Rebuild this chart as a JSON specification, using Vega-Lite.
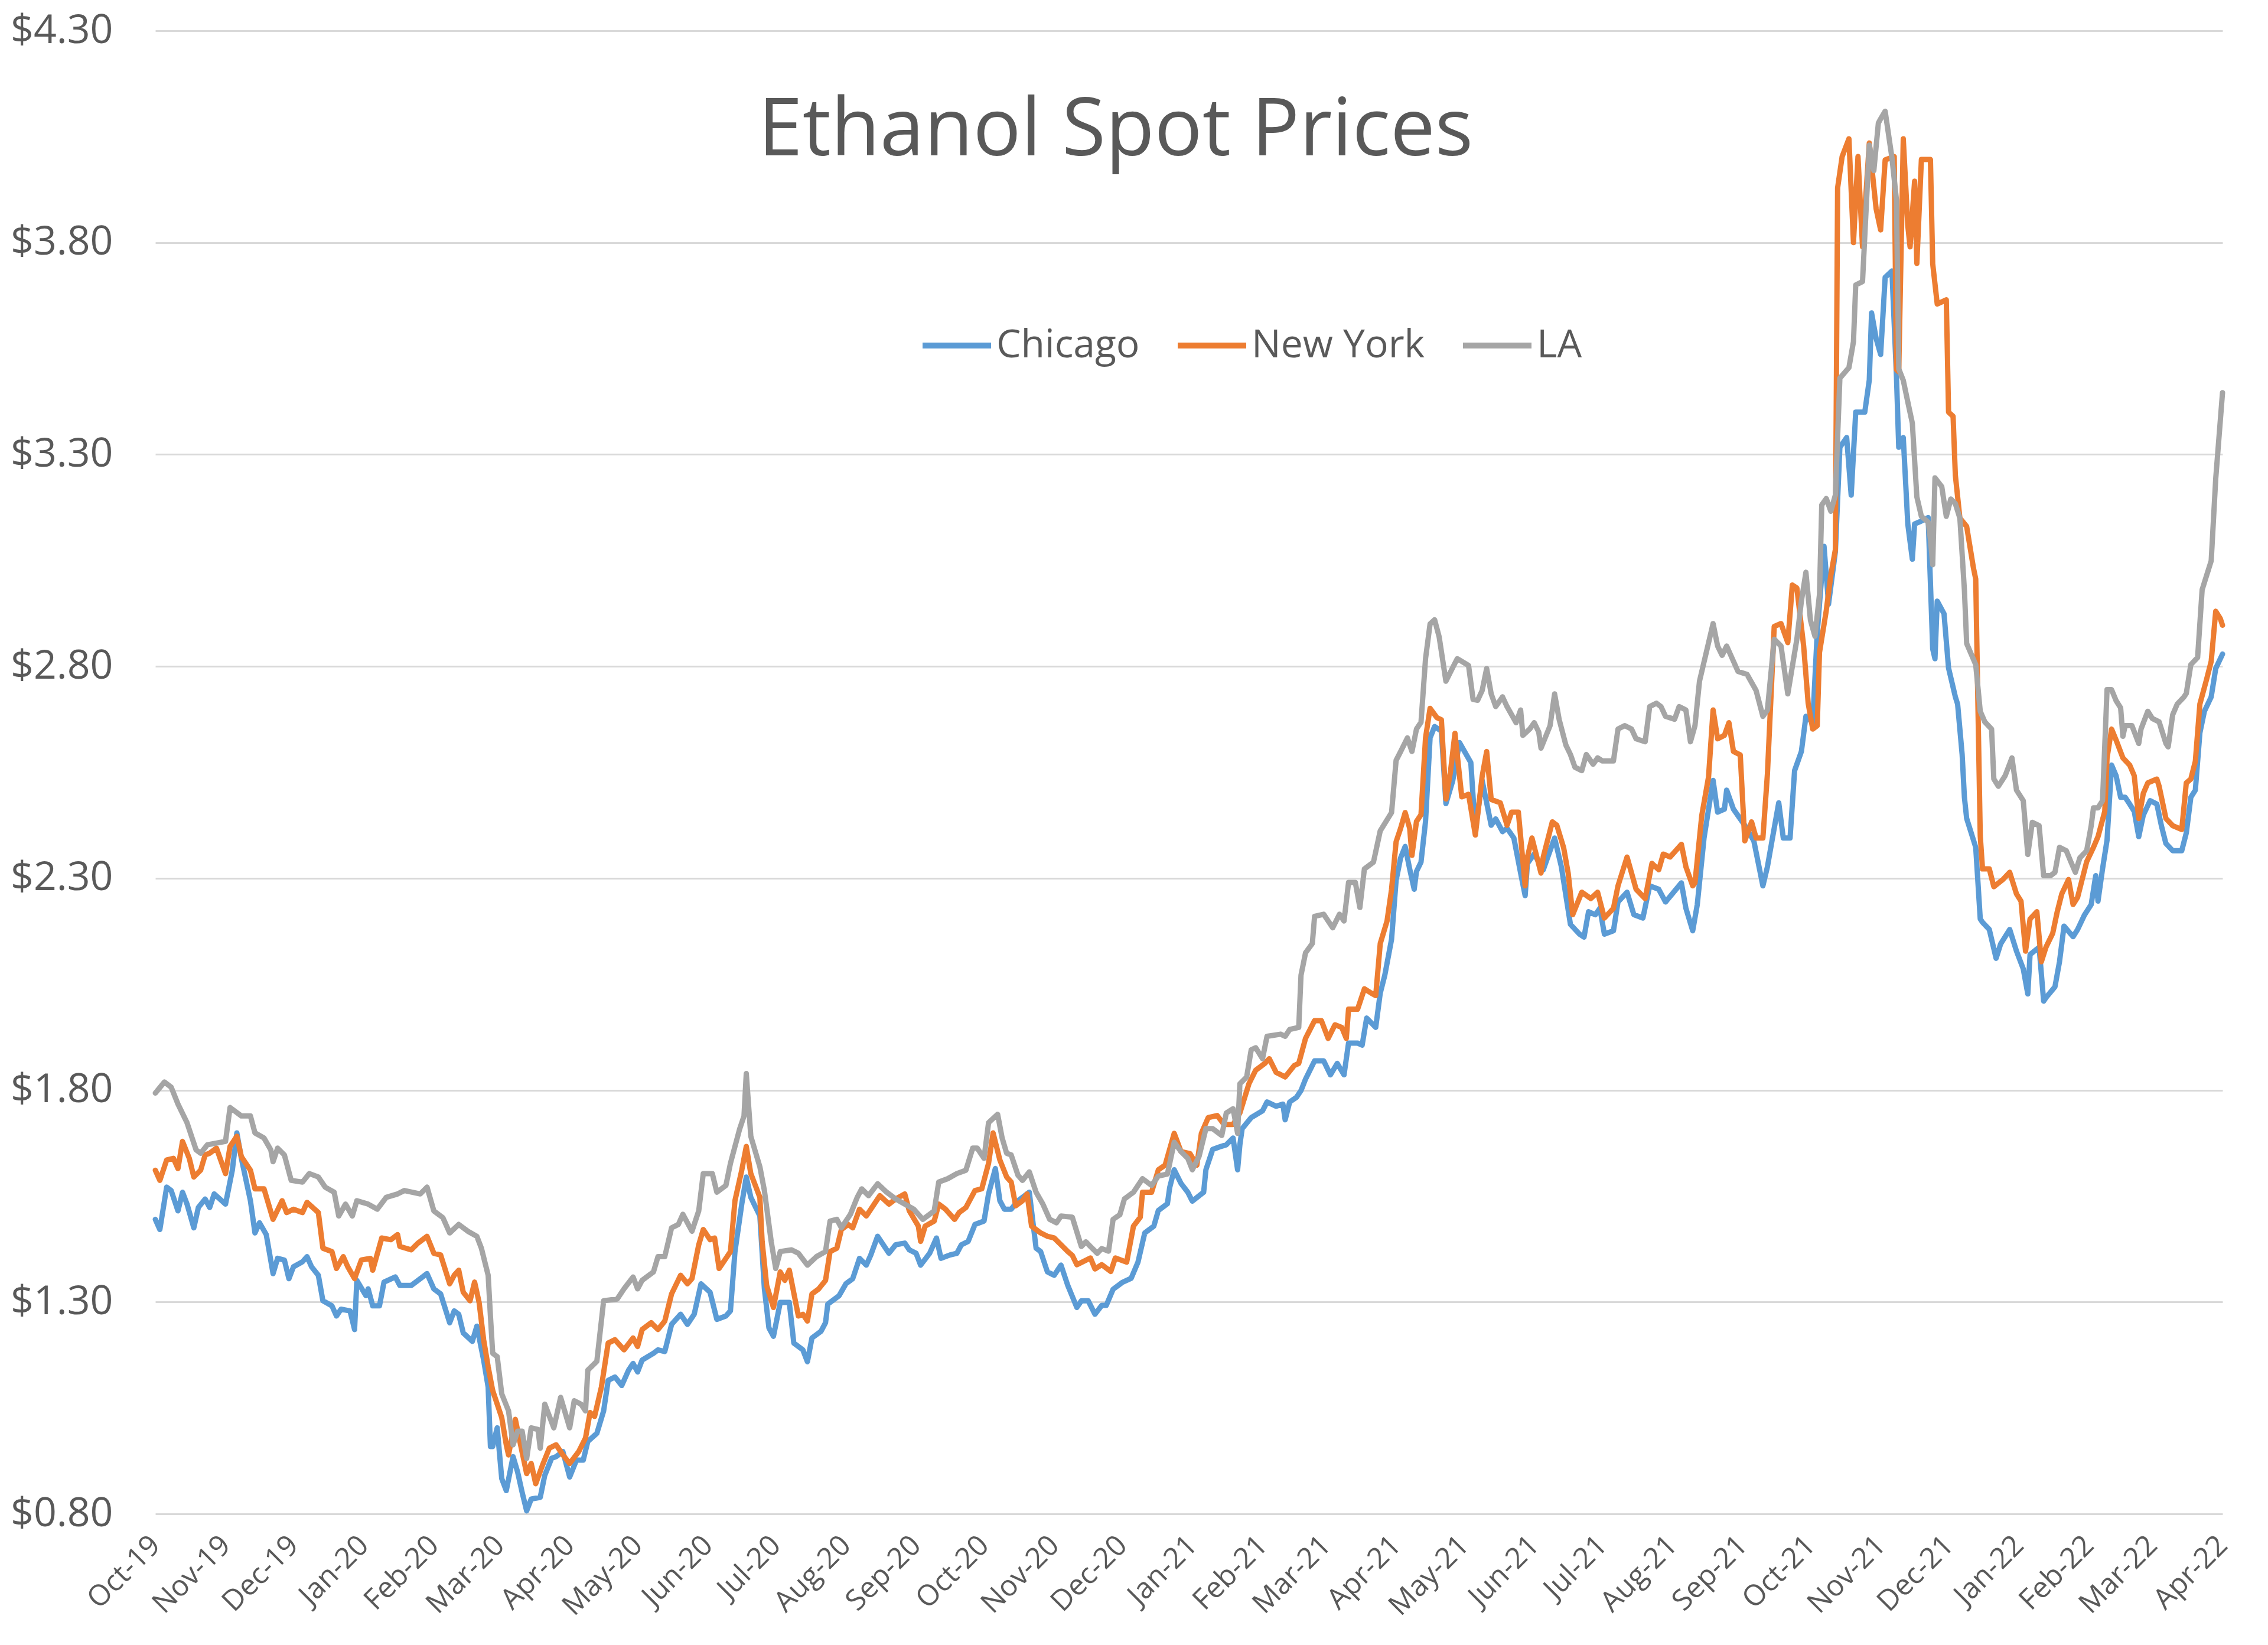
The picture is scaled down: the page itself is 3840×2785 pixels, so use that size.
{
"$schema":"https://vega.github.io/schema/vega-lite/v6.json",
"width":3500,"height":2511,
"autosize":{"type":"none"},
"padding":{"left":263,"top":52,"right":77,"bottom":222},
"background":"white",
"config":{"font":"Open Sans","view":{"stroke":null}},
"title":{"text":"Ethanol Spot Prices","font":"Open Sans","fontSize":135,"fontWeight":"normal","color":"#595959","anchor":"middle","frame":"group","baseline":"middle","offset":-339,"dx":-124},
"data":{"values":[
{"date":"2019-10-01","city":"Chicago","price":1.495},{"date":"2019-10-03","city":"Chicago","price":1.471},{"date":"2019-10-06","city":"Chicago","price":1.571},{"date":"2019-10-08","city":"Chicago","price":1.563},{"date":"2019-10-11","city":"Chicago","price":1.515},{"date":"2019-10-13","city":"Chicago","price":1.559},{"date":"2019-10-15","city":"Chicago","price":1.531},{"date":"2019-10-18","city":"Chicago","price":1.475},{"date":"2019-10-20","city":"Chicago","price":1.523},{"date":"2019-10-23","city":"Chicago","price":1.543},{"date":"2019-10-25","city":"Chicago","price":1.523},{"date":"2019-10-27","city":"Chicago","price":1.555},
{"date":"2019-11-01","city":"Chicago","price":1.531},{"date":"2019-11-04","city":"Chicago","price":1.611},{"date":"2019-11-06","city":"Chicago","price":1.699},{"date":"2019-11-08","city":"Chicago","price":1.639},{"date":"2019-11-12","city":"Chicago","price":1.539},{"date":"2019-11-14","city":"Chicago","price":1.463},{"date":"2019-11-16","city":"Chicago","price":1.487},{"date":"2019-11-19","city":"Chicago","price":1.459},{"date":"2019-11-22","city":"Chicago","price":1.367},{"date":"2019-11-24","city":"Chicago","price":1.403},{"date":"2019-11-27","city":"Chicago","price":1.399},{"date":"2019-11-29","city":"Chicago","price":1.355},
{"date":"2019-12-01","city":"Chicago","price":1.383},{"date":"2019-12-05","city":"Chicago","price":1.395},{"date":"2019-12-07","city":"Chicago","price":1.407},{"date":"2019-12-09","city":"Chicago","price":1.383},{"date":"2019-12-12","city":"Chicago","price":1.363},{"date":"2019-12-14","city":"Chicago","price":1.303},{"date":"2019-12-18","city":"Chicago","price":1.291},{"date":"2019-12-20","city":"Chicago","price":1.267},{"date":"2019-12-22","city":"Chicago","price":1.283},{"date":"2019-12-26","city":"Chicago","price":1.279},{"date":"2019-12-28","city":"Chicago","price":1.235},{"date":"2019-12-29","city":"Chicago","price":1.351},
{"date":"2020-01-02","city":"Chicago","price":1.315},{"date":"2020-01-03","city":"Chicago","price":1.331},{"date":"2020-01-05","city":"Chicago","price":1.291},{"date":"2020-01-08","city":"Chicago","price":1.291},{"date":"2020-01-10","city":"Chicago","price":1.347},{"date":"2020-01-15","city":"Chicago","price":1.359},{"date":"2020-01-17","city":"Chicago","price":1.339},{"date":"2020-01-22","city":"Chicago","price":1.339},{"date":"2020-01-26","city":"Chicago","price":1.355},{"date":"2020-01-29","city":"Chicago","price":1.367},
{"date":"2020-02-01","city":"Chicago","price":1.331},{"date":"2020-02-04","city":"Chicago","price":1.319},{"date":"2020-02-08","city":"Chicago","price":1.251},{"date":"2020-02-10","city":"Chicago","price":1.279},{"date":"2020-02-12","city":"Chicago","price":1.271},{"date":"2020-02-14","city":"Chicago","price":1.227},{"date":"2020-02-18","city":"Chicago","price":1.207},{"date":"2020-02-20","city":"Chicago","price":1.243},{"date":"2020-02-23","city":"Chicago","price":1.163},{"date":"2020-02-25","city":"Chicago","price":1.099},{"date":"2020-02-26","city":"Chicago","price":0.959},{"date":"2020-02-27","city":"Chicago","price":0.959},{"date":"2020-02-29","city":"Chicago","price":1.003},
{"date":"2020-03-02","city":"Chicago","price":0.883},{"date":"2020-03-04","city":"Chicago","price":0.855},{"date":"2020-03-07","city":"Chicago","price":0.935},{"date":"2020-03-09","city":"Chicago","price":0.899},{"date":"2020-03-11","city":"Chicago","price":0.851},{"date":"2020-03-13","city":"Chicago","price":0.807},{"date":"2020-03-15","city":"Chicago","price":0.835},{"date":"2020-03-19","city":"Chicago","price":0.839},{"date":"2020-03-21","city":"Chicago","price":0.891},{"date":"2020-03-24","city":"Chicago","price":0.931},{"date":"2020-03-26","city":"Chicago","price":0.935},{"date":"2020-03-29","city":"Chicago","price":0.947},
{"date":"2020-04-01","city":"Chicago","price":0.887},{"date":"2020-04-04","city":"Chicago","price":0.927},{"date":"2020-04-07","city":"Chicago","price":0.927},{"date":"2020-04-09","city":"Chicago","price":0.971},{"date":"2020-04-13","city":"Chicago","price":0.99},{"date":"2020-04-16","city":"Chicago","price":1.043},{"date":"2020-04-18","city":"Chicago","price":1.115},{"date":"2020-04-21","city":"Chicago","price":1.123},{"date":"2020-04-24","city":"Chicago","price":1.103},{"date":"2020-04-27","city":"Chicago","price":1.139},{"date":"2020-04-29","city":"Chicago","price":1.155},
{"date":"2020-05-01","city":"Chicago","price":1.135},{"date":"2020-05-03","city":"Chicago","price":1.163},{"date":"2020-05-08","city":"Chicago","price":1.179},{"date":"2020-05-10","city":"Chicago","price":1.187},{"date":"2020-05-13","city":"Chicago","price":1.183},{"date":"2020-05-16","city":"Chicago","price":1.247},{"date":"2020-05-20","city":"Chicago","price":1.271},{"date":"2020-05-23","city":"Chicago","price":1.247},{"date":"2020-05-26","city":"Chicago","price":1.271},{"date":"2020-05-29","city":"Chicago","price":1.343},
{"date":"2020-06-02","city":"Chicago","price":1.323},{"date":"2020-06-05","city":"Chicago","price":1.259},{"date":"2020-06-09","city":"Chicago","price":1.267},{"date":"2020-06-11","city":"Chicago","price":1.279},{"date":"2020-06-13","city":"Chicago","price":1.419},{"date":"2020-06-16","city":"Chicago","price":1.531},{"date":"2020-06-18","city":"Chicago","price":1.595},{"date":"2020-06-20","city":"Chicago","price":1.547},{"date":"2020-06-24","city":"Chicago","price":1.503},{"date":"2020-06-26","city":"Chicago","price":1.331},{"date":"2020-06-28","city":"Chicago","price":1.239},{"date":"2020-06-30","city":"Chicago","price":1.219},
{"date":"2020-07-03","city":"Chicago","price":1.299},{"date":"2020-07-07","city":"Chicago","price":1.299},{"date":"2020-07-09","city":"Chicago","price":1.203},{"date":"2020-07-13","city":"Chicago","price":1.187},{"date":"2020-07-15","city":"Chicago","price":1.159},{"date":"2020-07-17","city":"Chicago","price":1.215},{"date":"2020-07-21","city":"Chicago","price":1.231},{"date":"2020-07-23","city":"Chicago","price":1.251},{"date":"2020-07-24","city":"Chicago","price":1.295},{"date":"2020-07-29","city":"Chicago","price":1.315},
{"date":"2020-08-01","city":"Chicago","price":1.343},{"date":"2020-08-04","city":"Chicago","price":1.355},{"date":"2020-08-07","city":"Chicago","price":1.403},{"date":"2020-08-10","city":"Chicago","price":1.387},{"date":"2020-08-12","city":"Chicago","price":1.411},{"date":"2020-08-15","city":"Chicago","price":1.455},{"date":"2020-08-20","city":"Chicago","price":1.415},{"date":"2020-08-23","city":"Chicago","price":1.435},{"date":"2020-08-27","city":"Chicago","price":1.439},{"date":"2020-08-29","city":"Chicago","price":1.423},
{"date":"2020-09-01","city":"Chicago","price":1.415},{"date":"2020-09-03","city":"Chicago","price":1.387},{"date":"2020-09-07","city":"Chicago","price":1.415},{"date":"2020-09-10","city":"Chicago","price":1.451},{"date":"2020-09-12","city":"Chicago","price":1.403},{"date":"2020-09-16","city":"Chicago","price":1.411},{"date":"2020-09-19","city":"Chicago","price":1.415},{"date":"2020-09-21","city":"Chicago","price":1.435},{"date":"2020-09-24","city":"Chicago","price":1.443},{"date":"2020-09-27","city":"Chicago","price":1.483},
{"date":"2020-10-01","city":"Chicago","price":1.491},{"date":"2020-10-03","city":"Chicago","price":1.555},{"date":"2020-10-06","city":"Chicago","price":1.615},{"date":"2020-10-08","city":"Chicago","price":1.539},{"date":"2020-10-10","city":"Chicago","price":1.519},{"date":"2020-10-13","city":"Chicago","price":1.519},{"date":"2020-10-16","city":"Chicago","price":1.539},{"date":"2020-10-18","city":"Chicago","price":1.547},{"date":"2020-10-21","city":"Chicago","price":1.559},{"date":"2020-10-24","city":"Chicago","price":1.427},{"date":"2020-10-26","city":"Chicago","price":1.419},{"date":"2020-10-29","city":"Chicago","price":1.371},
{"date":"2020-11-01","city":"Chicago","price":1.363},{"date":"2020-11-04","city":"Chicago","price":1.387},{"date":"2020-11-07","city":"Chicago","price":1.339},{"date":"2020-11-11","city":"Chicago","price":1.287},{"date":"2020-11-13","city":"Chicago","price":1.303},{"date":"2020-11-16","city":"Chicago","price":1.303},{"date":"2020-11-19","city":"Chicago","price":1.271},{"date":"2020-11-22","city":"Chicago","price":1.292},{"date":"2020-11-24","city":"Chicago","price":1.292},{"date":"2020-11-27","city":"Chicago","price":1.33},
{"date":"2020-12-01","city":"Chicago","price":1.346},{"date":"2020-12-05","city":"Chicago","price":1.356},{"date":"2020-12-08","city":"Chicago","price":1.394},{"date":"2020-12-11","city":"Chicago","price":1.463},{"date":"2020-12-15","city":"Chicago","price":1.479},{"date":"2020-12-17","city":"Chicago","price":1.516},{"date":"2020-12-21","city":"Chicago","price":1.532},{"date":"2020-12-22","city":"Chicago","price":1.57},{"date":"2020-12-24","city":"Chicago","price":1.612},{"date":"2020-12-27","city":"Chicago","price":1.58},{"date":"2020-12-30","city":"Chicago","price":1.559},
{"date":"2021-01-01","city":"Chicago","price":1.538},{"date":"2021-01-06","city":"Chicago","price":1.559},{"date":"2021-01-07","city":"Chicago","price":1.612},{"date":"2021-01-10","city":"Chicago","price":1.66},{"date":"2021-01-13","city":"Chicago","price":1.666},{"date":"2021-01-16","city":"Chicago","price":1.671},{"date":"2021-01-19","city":"Chicago","price":1.687},{"date":"2021-01-21","city":"Chicago","price":1.612},{"date":"2021-01-22","city":"Chicago","price":1.671},{"date":"2021-01-23","city":"Chicago","price":1.709},{"date":"2021-01-27","city":"Chicago","price":1.735},
{"date":"2021-02-01","city":"Chicago","price":1.751},{"date":"2021-02-03","city":"Chicago","price":1.772},{"date":"2021-02-07","city":"Chicago","price":1.762},{"date":"2021-02-10","city":"Chicago","price":1.767},{"date":"2021-02-11","city":"Chicago","price":1.73},{"date":"2021-02-13","city":"Chicago","price":1.772},{"date":"2021-02-16","city":"Chicago","price":1.783},{"date":"2021-02-18","city":"Chicago","price":1.799},{"date":"2021-02-20","city":"Chicago","price":1.826},{"date":"2021-02-24","city":"Chicago","price":1.869},{"date":"2021-02-28","city":"Chicago","price":1.869},
{"date":"2021-03-03","city":"Chicago","price":1.836},{"date":"2021-03-06","city":"Chicago","price":1.863},{"date":"2021-03-09","city":"Chicago","price":1.836},{"date":"2021-03-11","city":"Chicago","price":1.911},{"date":"2021-03-15","city":"Chicago","price":1.911},{"date":"2021-03-17","city":"Chicago","price":1.906},{"date":"2021-03-19","city":"Chicago","price":1.97},{"date":"2021-03-23","city":"Chicago","price":1.948},{"date":"2021-03-25","city":"Chicago","price":2.029},{"date":"2021-03-27","city":"Chicago","price":2.071},{"date":"2021-03-30","city":"Chicago","price":2.156},
{"date":"2021-04-01","city":"Chicago","price":2.295},{"date":"2021-04-03","city":"Chicago","price":2.348},{"date":"2021-04-05","city":"Chicago","price":2.375},{"date":"2021-04-07","city":"Chicago","price":2.322},{"date":"2021-04-09","city":"Chicago","price":2.274},{"date":"2021-04-10","city":"Chicago","price":2.316},{"date":"2021-04-12","city":"Chicago","price":2.338},{"date":"2021-04-14","city":"Chicago","price":2.434},{"date":"2021-04-16","city":"Chicago","price":2.631},{"date":"2021-04-18","city":"Chicago","price":2.658},{"date":"2021-04-21","city":"Chicago","price":2.647},{"date":"2021-04-23","city":"Chicago","price":2.476},{"date":"2021-04-26","city":"Chicago","price":2.53},{"date":"2021-04-29","city":"Chicago","price":2.62},
{"date":"2021-05-04","city":"Chicago","price":2.573},{"date":"2021-05-06","city":"Chicago","price":2.412},{"date":"2021-05-09","city":"Chicago","price":2.531},{"date":"2021-05-13","city":"Chicago","price":2.425},{"date":"2021-05-15","city":"Chicago","price":2.44},{"date":"2021-05-18","city":"Chicago","price":2.41},{"date":"2021-05-20","city":"Chicago","price":2.418},{"date":"2021-05-23","city":"Chicago","price":2.395},{"date":"2021-05-26","city":"Chicago","price":2.312},{"date":"2021-05-28","city":"Chicago","price":2.259},{"date":"2021-05-29","city":"Chicago","price":2.335},
{"date":"2021-06-01","city":"Chicago","price":2.357},{"date":"2021-06-05","city":"Chicago","price":2.32},{"date":"2021-06-10","city":"Chicago","price":2.395},{"date":"2021-06-13","city":"Chicago","price":2.327},{"date":"2021-06-17","city":"Chicago","price":2.191},{"date":"2021-06-21","city":"Chicago","price":2.168},{"date":"2021-06-23","city":"Chicago","price":2.161},{"date":"2021-06-25","city":"Chicago","price":2.221},{"date":"2021-06-28","city":"Chicago","price":2.214},{"date":"2021-06-30","city":"Chicago","price":2.229},
{"date":"2021-07-02","city":"Chicago","price":2.168},{"date":"2021-07-06","city":"Chicago","price":2.176},{"date":"2021-07-08","city":"Chicago","price":2.244},{"date":"2021-07-12","city":"Chicago","price":2.267},{"date":"2021-07-15","city":"Chicago","price":2.214},{"date":"2021-07-19","city":"Chicago","price":2.206},{"date":"2021-07-22","city":"Chicago","price":2.282},{"date":"2021-07-26","city":"Chicago","price":2.274},{"date":"2021-07-29","city":"Chicago","price":2.244},
{"date":"2021-08-05","city":"Chicago","price":2.289},{"date":"2021-08-07","city":"Chicago","price":2.229},{"date":"2021-08-10","city":"Chicago","price":2.176},{"date":"2021-08-12","city":"Chicago","price":2.237},{"date":"2021-08-15","city":"Chicago","price":2.395},{"date":"2021-08-19","city":"Chicago","price":2.531},{"date":"2021-08-21","city":"Chicago","price":2.456},{"date":"2021-08-24","city":"Chicago","price":2.463},{"date":"2021-08-25","city":"Chicago","price":2.508},{"date":"2021-08-28","city":"Chicago","price":2.463},{"date":"2021-08-31","city":"Chicago","price":2.44},
{"date":"2021-09-02","city":"Chicago","price":2.425},{"date":"2021-09-06","city":"Chicago","price":2.388},{"date":"2021-09-10","city":"Chicago","price":2.282},{"date":"2021-09-12","city":"Chicago","price":2.327},{"date":"2021-09-14","city":"Chicago","price":2.388},{"date":"2021-09-17","city":"Chicago","price":2.478},{"date":"2021-09-19","city":"Chicago","price":2.395},{"date":"2021-09-22","city":"Chicago","price":2.395},{"date":"2021-09-24","city":"Chicago","price":2.554},{"date":"2021-09-27","city":"Chicago","price":2.599},{"date":"2021-09-29","city":"Chicago","price":2.682},
{"date":"2021-10-02","city":"Chicago","price":2.667},{"date":"2021-10-04","city":"Chicago","price":2.879},{"date":"2021-10-07","city":"Chicago","price":3.083},{"date":"2021-10-09","city":"Chicago","price":2.947},{"date":"2021-10-12","city":"Chicago","price":3.07},{"date":"2021-10-14","city":"Chicago","price":3.317},{"date":"2021-10-17","city":"Chicago","price":3.34},{"date":"2021-10-19","city":"Chicago","price":3.204},{"date":"2021-10-21","city":"Chicago","price":3.4},{"date":"2021-10-25","city":"Chicago","price":3.4},{"date":"2021-10-27","city":"Chicago","price":3.476},{"date":"2021-10-28","city":"Chicago","price":3.634},{"date":"2021-10-30","city":"Chicago","price":3.574},
{"date":"2021-11-01","city":"Chicago","price":3.536},{"date":"2021-11-03","city":"Chicago","price":3.718},{"date":"2021-11-06","city":"Chicago","price":3.733},{"date":"2021-11-08","city":"Chicago","price":3.483},{"date":"2021-11-09","city":"Chicago","price":3.317},{"date":"2021-11-11","city":"Chicago","price":3.34},{"date":"2021-11-13","city":"Chicago","price":3.136},{"date":"2021-11-15","city":"Chicago","price":3.053},{"date":"2021-11-16","city":"Chicago","price":3.136},{"date":"2021-11-19","city":"Chicago","price":3.143},{"date":"2021-11-22","city":"Chicago","price":3.151},{"date":"2021-11-24","city":"Chicago","price":2.841},{"date":"2021-11-25","city":"Chicago","price":2.818},{"date":"2021-11-26","city":"Chicago","price":2.954},{"date":"2021-11-29","city":"Chicago","price":2.924},
{"date":"2021-12-01","city":"Chicago","price":2.796},{"date":"2021-12-04","city":"Chicago","price":2.728},{"date":"2021-12-05","city":"Chicago","price":2.711},{"date":"2021-12-07","city":"Chicago","price":2.592},{"date":"2021-12-08","city":"Chicago","price":2.491},{"date":"2021-12-09","city":"Chicago","price":2.441},{"date":"2021-12-13","city":"Chicago","price":2.373},{"date":"2021-12-15","city":"Chicago","price":2.204},{"date":"2021-12-16","city":"Chicago","price":2.196},{"date":"2021-12-19","city":"Chicago","price":2.179},{"date":"2021-12-22","city":"Chicago","price":2.111},{"date":"2021-12-24","city":"Chicago","price":2.145},{"date":"2021-12-28","city":"Chicago","price":2.179},{"date":"2021-12-31","city":"Chicago","price":2.128},
{"date":"2022-01-03","city":"Chicago","price":2.086},{"date":"2022-01-05","city":"Chicago","price":2.027},{"date":"2022-01-06","city":"Chicago","price":2.12},{"date":"2022-01-10","city":"Chicago","price":2.137},{"date":"2022-01-12","city":"Chicago","price":2.01},{"date":"2022-01-13","city":"Chicago","price":2.018},{"date":"2022-01-17","city":"Chicago","price":2.044},{"date":"2022-01-19","city":"Chicago","price":2.103},{"date":"2022-01-21","city":"Chicago","price":2.187},{"date":"2022-01-25","city":"Chicago","price":2.162},{"date":"2022-01-27","city":"Chicago","price":2.179},{"date":"2022-01-30","city":"Chicago","price":2.213},
{"date":"2022-02-02","city":"Chicago","price":2.238},{"date":"2022-02-04","city":"Chicago","price":2.306},{"date":"2022-02-05","city":"Chicago","price":2.246},{"date":"2022-02-07","city":"Chicago","price":2.322},{"date":"2022-02-09","city":"Chicago","price":2.39},{"date":"2022-02-11","city":"Chicago","price":2.567},{"date":"2022-02-13","city":"Chicago","price":2.542},{"date":"2022-02-15","city":"Chicago","price":2.491},{"date":"2022-02-17","city":"Chicago","price":2.491},{"date":"2022-02-19","city":"Chicago","price":2.475},{"date":"2022-02-21","city":"Chicago","price":2.458},{"date":"2022-02-23","city":"Chicago","price":2.398},{"date":"2022-02-25","city":"Chicago","price":2.449},{"date":"2022-02-28","city":"Chicago","price":2.483},
{"date":"2022-03-03","city":"Chicago","price":2.475},{"date":"2022-03-05","city":"Chicago","price":2.424},{"date":"2022-03-07","city":"Chicago","price":2.382},{"date":"2022-03-10","city":"Chicago","price":2.365},{"date":"2022-03-14","city":"Chicago","price":2.365},{"date":"2022-03-16","city":"Chicago","price":2.407},{"date":"2022-03-18","city":"Chicago","price":2.491},{"date":"2022-03-20","city":"Chicago","price":2.508},{"date":"2022-03-22","city":"Chicago","price":2.643},{"date":"2022-03-24","city":"Chicago","price":2.694},{"date":"2022-03-27","city":"Chicago","price":2.728},{"date":"2022-03-29","city":"Chicago","price":2.795},{"date":"2022-04-01","city":"Chicago","price":2.829},

{"date":"2019-10-01","city":"New York","price":1.611},{"date":"2019-10-03","city":"New York","price":1.587},{"date":"2019-10-06","city":"New York","price":1.635},{"date":"2019-10-09","city":"New York","price":1.639},{"date":"2019-10-11","city":"New York","price":1.615},{"date":"2019-10-13","city":"New York","price":1.679},{"date":"2019-10-16","city":"New York","price":1.639},{"date":"2019-10-18","city":"New York","price":1.595},{"date":"2019-10-21","city":"New York","price":1.611},{"date":"2019-10-23","city":"New York","price":1.647},{"date":"2019-10-25","city":"New York","price":1.651},{"date":"2019-10-28","city":"New York","price":1.663},
{"date":"2019-11-01","city":"New York","price":1.603},{"date":"2019-11-03","city":"New York","price":1.667},{"date":"2019-11-06","city":"New York","price":1.691},{"date":"2019-11-08","city":"New York","price":1.643},{"date":"2019-11-12","city":"New York","price":1.611},{"date":"2019-11-14","city":"New York","price":1.567},{"date":"2019-11-18","city":"New York","price":1.567},{"date":"2019-11-22","city":"New York","price":1.495},{"date":"2019-11-26","city":"New York","price":1.539},{"date":"2019-11-28","city":"New York","price":1.511},
{"date":"2019-12-01","city":"New York","price":1.519},{"date":"2019-12-05","city":"New York","price":1.511},{"date":"2019-12-07","city":"New York","price":1.535},{"date":"2019-12-12","city":"New York","price":1.511},{"date":"2019-12-14","city":"New York","price":1.427},{"date":"2019-12-18","city":"New York","price":1.419},{"date":"2019-12-20","city":"New York","price":1.379},{"date":"2019-12-23","city":"New York","price":1.407},{"date":"2019-12-25","city":"New York","price":1.383},{"date":"2019-12-28","city":"New York","price":1.355},{"date":"2019-12-31","city":"New York","price":1.399},
{"date":"2020-01-04","city":"New York","price":1.403},{"date":"2020-01-05","city":"New York","price":1.375},{"date":"2020-01-09","city":"New York","price":1.451},{"date":"2020-01-13","city":"New York","price":1.447},{"date":"2020-01-16","city":"New York","price":1.459},{"date":"2020-01-17","city":"New York","price":1.431},{"date":"2020-01-22","city":"New York","price":1.423},{"date":"2020-01-25","city":"New York","price":1.439},{"date":"2020-01-29","city":"New York","price":1.455},
{"date":"2020-02-01","city":"New York","price":1.415},{"date":"2020-02-04","city":"New York","price":1.411},{"date":"2020-02-08","city":"New York","price":1.343},{"date":"2020-02-10","city":"New York","price":1.363},{"date":"2020-02-12","city":"New York","price":1.375},{"date":"2020-02-14","city":"New York","price":1.323},{"date":"2020-02-17","city":"New York","price":1.303},{"date":"2020-02-19","city":"New York","price":1.347},{"date":"2020-02-21","city":"New York","price":1.299},{"date":"2020-02-23","city":"New York","price":1.211},{"date":"2020-02-25","city":"New York","price":1.147},{"date":"2020-02-27","city":"New York","price":1.091},
{"date":"2020-03-02","city":"New York","price":1.027},{"date":"2020-03-04","city":"New York","price":0.963},{"date":"2020-03-05","city":"New York","price":0.939},{"date":"2020-03-08","city":"New York","price":1.023},{"date":"2020-03-10","city":"New York","price":0.971},{"date":"2020-03-13","city":"New York","price":0.895},{"date":"2020-03-15","city":"New York","price":0.919},{"date":"2020-03-17","city":"New York","price":0.871},{"date":"2020-03-20","city":"New York","price":0.915},{"date":"2020-03-23","city":"New York","price":0.955},{"date":"2020-03-26","city":"New York","price":0.963},{"date":"2020-03-29","city":"New York","price":0.939},
{"date":"2020-04-01","city":"New York","price":0.919},{"date":"2020-04-05","city":"New York","price":0.947},{"date":"2020-04-08","city":"New York","price":0.979},{"date":"2020-04-10","city":"New York","price":1.039},{"date":"2020-04-12","city":"New York","price":1.03},{"date":"2020-04-15","city":"New York","price":1.099},{"date":"2020-04-18","city":"New York","price":1.203},{"date":"2020-04-21","city":"New York","price":1.211},{"date":"2020-04-25","city":"New York","price":1.187},{"date":"2020-04-29","city":"New York","price":1.215},
{"date":"2020-05-01","city":"New York","price":1.195},{"date":"2020-05-03","city":"New York","price":1.235},{"date":"2020-05-07","city":"New York","price":1.251},{"date":"2020-05-10","city":"New York","price":1.235},{"date":"2020-05-13","city":"New York","price":1.255},{"date":"2020-05-16","city":"New York","price":1.319},{"date":"2020-05-20","city":"New York","price":1.363},{"date":"2020-05-23","city":"New York","price":1.343},{"date":"2020-05-25","city":"New York","price":1.355},{"date":"2020-05-28","city":"New York","price":1.435},{"date":"2020-05-30","city":"New York","price":1.471},
{"date":"2020-06-02","city":"New York","price":1.447},{"date":"2020-06-04","city":"New York","price":1.451},{"date":"2020-06-06","city":"New York","price":1.379},{"date":"2020-06-09","city":"New York","price":1.403},{"date":"2020-06-11","city":"New York","price":1.419},{"date":"2020-06-13","city":"New York","price":1.539},{"date":"2020-06-16","city":"New York","price":1.611},{"date":"2020-06-18","city":"New York","price":1.667},{"date":"2020-06-20","city":"New York","price":1.603},{"date":"2020-06-24","city":"New York","price":1.547},{"date":"2020-06-25","city":"New York","price":1.443},{"date":"2020-06-27","city":"New York","price":1.339},{"date":"2020-06-30","city":"New York","price":1.287},
{"date":"2020-07-03","city":"New York","price":1.371},{"date":"2020-07-05","city":"New York","price":1.351},{"date":"2020-07-07","city":"New York","price":1.375},{"date":"2020-07-11","city":"New York","price":1.267},{"date":"2020-07-13","city":"New York","price":1.271},{"date":"2020-07-15","city":"New York","price":1.255},{"date":"2020-07-17","city":"New York","price":1.319},{"date":"2020-07-20","city":"New York","price":1.331},{"date":"2020-07-23","city":"New York","price":1.351},{"date":"2020-07-25","city":"New York","price":1.419},{"date":"2020-07-28","city":"New York","price":1.427},{"date":"2020-07-30","city":"New York","price":1.471},
{"date":"2020-08-02","city":"New York","price":1.483},{"date":"2020-08-04","city":"New York","price":1.475},{"date":"2020-08-07","city":"New York","price":1.519},{"date":"2020-08-10","city":"New York","price":1.503},{"date":"2020-08-12","city":"New York","price":1.519},{"date":"2020-08-16","city":"New York","price":1.551},{"date":"2020-08-20","city":"New York","price":1.531},{"date":"2020-08-23","city":"New York","price":1.543},{"date":"2020-08-27","city":"New York","price":1.555},{"date":"2020-08-29","city":"New York","price":1.515},
{"date":"2020-09-02","city":"New York","price":1.479},{"date":"2020-09-03","city":"New York","price":1.443},{"date":"2020-09-05","city":"New York","price":1.479},{"date":"2020-09-09","city":"New York","price":1.491},{"date":"2020-09-11","city":"New York","price":1.531},{"date":"2020-09-14","city":"New York","price":1.519},{"date":"2020-09-18","city":"New York","price":1.495},{"date":"2020-09-20","city":"New York","price":1.511},{"date":"2020-09-23","city":"New York","price":1.523},{"date":"2020-09-27","city":"New York","price":1.563},{"date":"2020-09-30","city":"New York","price":1.567},
{"date":"2020-10-03","city":"New York","price":1.627},{"date":"2020-10-05","city":"New York","price":1.699},{"date":"2020-10-08","city":"New York","price":1.635},{"date":"2020-10-11","city":"New York","price":1.595},{"date":"2020-10-13","city":"New York","price":1.583},{"date":"2020-10-15","city":"New York","price":1.527},{"date":"2020-10-18","city":"New York","price":1.539},{"date":"2020-10-20","city":"New York","price":1.555},{"date":"2020-10-22","city":"New York","price":1.479},{"date":"2020-10-26","city":"New York","price":1.463},{"date":"2020-10-29","city":"New York","price":1.455},
{"date":"2020-11-01","city":"New York","price":1.451},{"date":"2020-11-04","city":"New York","price":1.435},{"date":"2020-11-07","city":"New York","price":1.419},{"date":"2020-11-09","city":"New York","price":1.41},{"date":"2020-11-11","city":"New York","price":1.388},{"date":"2020-11-17","city":"New York","price":1.404},{"date":"2020-11-19","city":"New York","price":1.378},{"date":"2020-11-22","city":"New York","price":1.388},{"date":"2020-11-26","city":"New York","price":1.372},{"date":"2020-11-28","city":"New York","price":1.404},
{"date":"2020-12-03","city":"New York","price":1.394},{"date":"2020-12-06","city":"New York","price":1.479},{"date":"2020-12-09","city":"New York","price":1.5},{"date":"2020-12-10","city":"New York","price":1.559},{"date":"2020-12-14","city":"New York","price":1.559},{"date":"2020-12-17","city":"New York","price":1.612},{"date":"2020-12-20","city":"New York","price":1.623},{"date":"2020-12-24","city":"New York","price":1.698},{"date":"2020-12-27","city":"New York","price":1.655},{"date":"2020-12-31","city":"New York","price":1.65},
{"date":"2021-01-03","city":"New York","price":1.623},{"date":"2021-01-05","city":"New York","price":1.698},{"date":"2021-01-08","city":"New York","price":1.735},{"date":"2021-01-12","city":"New York","price":1.74},{"date":"2021-01-15","city":"New York","price":1.719},{"date":"2021-01-19","city":"New York","price":1.719},{"date":"2021-01-22","city":"New York","price":1.746},{"date":"2021-01-26","city":"New York","price":1.815},{"date":"2021-01-29","city":"New York","price":1.847},
{"date":"2021-02-02","city":"New York","price":1.863},{"date":"2021-02-04","city":"New York","price":1.874},{"date":"2021-02-07","city":"New York","price":1.842},{"date":"2021-02-11","city":"New York","price":1.831},{"date":"2021-02-15","city":"New York","price":1.858},{"date":"2021-02-17","city":"New York","price":1.863},{"date":"2021-02-20","city":"New York","price":1.922},{"date":"2021-02-24","city":"New York","price":1.964},{"date":"2021-02-27","city":"New York","price":1.964},
{"date":"2021-03-02","city":"New York","price":1.922},{"date":"2021-03-05","city":"New York","price":1.954},{"date":"2021-03-08","city":"New York","price":1.948},{"date":"2021-03-10","city":"New York","price":1.922},{"date":"2021-03-11","city":"New York","price":1.991},{"date":"2021-03-15","city":"New York","price":1.991},{"date":"2021-03-18","city":"New York","price":2.039},{"date":"2021-03-21","city":"New York","price":2.029},{"date":"2021-03-23","city":"New York","price":2.023},{"date":"2021-03-25","city":"New York","price":2.146},{"date":"2021-03-28","city":"New York","price":2.199},{"date":"2021-03-30","city":"New York","price":2.274},
{"date":"2021-04-01","city":"New York","price":2.386},{"date":"2021-04-03","city":"New York","price":2.418},{"date":"2021-04-05","city":"New York","price":2.455},{"date":"2021-04-07","city":"New York","price":2.418},{"date":"2021-04-08","city":"New York","price":2.354},{"date":"2021-04-10","city":"New York","price":2.434},{"date":"2021-04-12","city":"New York","price":2.45},{"date":"2021-04-14","city":"New York","price":2.631},{"date":"2021-04-16","city":"New York","price":2.701},{"date":"2021-04-19","city":"New York","price":2.679},{"date":"2021-04-21","city":"New York","price":2.674},{"date":"2021-04-23","city":"New York","price":2.487},{"date":"2021-04-25","city":"New York","price":2.551},{"date":"2021-04-27","city":"New York","price":2.642},{"date":"2021-04-30","city":"New York","price":2.492},
{"date":"2021-05-03","city":"New York","price":2.498},{"date":"2021-05-06","city":"New York","price":2.402},{"date":"2021-05-09","city":"New York","price":2.54},{"date":"2021-05-11","city":"New York","price":2.599},{"date":"2021-05-13","city":"New York","price":2.486},{"date":"2021-05-17","city":"New York","price":2.478},{"date":"2021-05-20","city":"New York","price":2.425},{"date":"2021-05-22","city":"New York","price":2.456},{"date":"2021-05-25","city":"New York","price":2.456},{"date":"2021-05-28","city":"New York","price":2.282},{"date":"2021-05-29","city":"New York","price":2.35},{"date":"2021-05-31","city":"New York","price":2.395},
{"date":"2021-06-04","city":"New York","price":2.312},{"date":"2021-06-05","city":"New York","price":2.35},{"date":"2021-06-09","city":"New York","price":2.433},{"date":"2021-06-11","city":"New York","price":2.425},{"date":"2021-06-14","city":"New York","price":2.372},{"date":"2021-06-16","city":"New York","price":2.312},{"date":"2021-06-18","city":"New York","price":2.214},{"date":"2021-06-22","city":"New York","price":2.267},{"date":"2021-06-26","city":"New York","price":2.252},{"date":"2021-06-29","city":"New York","price":2.267},
{"date":"2021-07-02","city":"New York","price":2.206},{"date":"2021-07-06","city":"New York","price":2.229},{"date":"2021-07-08","city":"New York","price":2.282},{"date":"2021-07-12","city":"New York","price":2.35},{"date":"2021-07-16","city":"New York","price":2.274},{"date":"2021-07-20","city":"New York","price":2.252},{"date":"2021-07-23","city":"New York","price":2.335},{"date":"2021-07-26","city":"New York","price":2.32},{"date":"2021-07-28","city":"New York","price":2.357},{"date":"2021-07-31","city":"New York","price":2.35},
{"date":"2021-08-05","city":"New York","price":2.38},{"date":"2021-08-07","city":"New York","price":2.327},{"date":"2021-08-10","city":"New York","price":2.282},{"date":"2021-08-11","city":"New York","price":2.289},{"date":"2021-08-14","city":"New York","price":2.448},{"date":"2021-08-17","city":"New York","price":2.539},{"date":"2021-08-19","city":"New York","price":2.697},{"date":"2021-08-21","city":"New York","price":2.629},{"date":"2021-08-24","city":"New York","price":2.637},{"date":"2021-08-26","city":"New York","price":2.667},{"date":"2021-08-28","city":"New York","price":2.599},{"date":"2021-08-31","city":"New York","price":2.591},
{"date":"2021-09-02","city":"New York","price":2.388},{"date":"2021-09-05","city":"New York","price":2.433},{"date":"2021-09-07","city":"New York","price":2.395},{"date":"2021-09-10","city":"New York","price":2.395},{"date":"2021-09-12","city":"New York","price":2.546},{"date":"2021-09-15","city":"New York","price":2.894},{"date":"2021-09-18","city":"New York","price":2.901},{"date":"2021-09-21","city":"New York","price":2.856},{"date":"2021-09-23","city":"New York","price":2.992},{"date":"2021-09-25","city":"New York","price":2.985},{"date":"2021-09-28","city":"New York","price":2.848},{"date":"2021-09-30","city":"New York","price":2.713},
{"date":"2021-10-02","city":"New York","price":2.652},{"date":"2021-10-04","city":"New York","price":2.66},{"date":"2021-10-05","city":"New York","price":2.833},{"date":"2021-10-08","city":"New York","price":2.932},{"date":"2021-10-10","city":"New York","price":3.015},{"date":"2021-10-12","city":"New York","price":3.075},{"date":"2021-10-13","city":"New York","price":3.929},{"date":"2021-10-15","city":"New York","price":4.003},{"date":"2021-10-18","city":"New York","price":4.045},{"date":"2021-10-20","city":"New York","price":3.8},{"date":"2021-10-22","city":"New York","price":4.003},{"date":"2021-10-24","city":"New York","price":3.79},{"date":"2021-10-27","city":"New York","price":4.035},{"date":"2021-10-30","city":"New York","price":3.88},
{"date":"2021-11-01","city":"New York","price":3.83},{"date":"2021-11-03","city":"New York","price":3.995},{"date":"2021-11-07","city":"New York","price":4.003},{"date":"2021-11-08","city":"New York","price":3.5},{"date":"2021-11-09","city":"New York","price":3.495},{"date":"2021-11-11","city":"New York","price":4.045},{"date":"2021-11-13","city":"New York","price":3.84},{"date":"2021-11-14","city":"New York","price":3.79},{"date":"2021-11-16","city":"New York","price":3.945},{"date":"2021-11-17","city":"New York","price":3.751},{"date":"2021-11-19","city":"New York","price":3.996},{"date":"2021-11-23","city":"New York","price":3.996},{"date":"2021-11-24","city":"New York","price":3.75},{"date":"2021-11-26","city":"New York","price":3.655},{"date":"2021-11-30","city":"New York","price":3.665},
{"date":"2021-12-01","city":"New York","price":3.4},{"date":"2021-12-03","city":"New York","price":3.39},{"date":"2021-12-04","city":"New York","price":3.251},{"date":"2021-12-06","city":"New York","price":3.15},{"date":"2021-12-09","city":"New York","price":3.13},{"date":"2021-12-12","city":"New York","price":3.032},{"date":"2021-12-13","city":"New York","price":3.006},{"date":"2021-12-14","city":"New York","price":2.7},{"date":"2021-12-15","city":"New York","price":2.4},{"date":"2021-12-16","city":"New York","price":2.322},{"date":"2021-12-19","city":"New York","price":2.322},{"date":"2021-12-21","city":"New York","price":2.28},{"date":"2021-12-25","city":"New York","price":2.297},{"date":"2021-12-28","city":"New York","price":2.314},{"date":"2021-12-31","city":"New York","price":2.263},
{"date":"2022-01-02","city":"New York","price":2.246},{"date":"2022-01-04","city":"New York","price":2.128},{"date":"2022-01-06","city":"New York","price":2.204},{"date":"2022-01-09","city":"New York","price":2.221},{"date":"2022-01-11","city":"New York","price":2.103},{"date":"2022-01-13","city":"New York","price":2.137},{"date":"2022-01-16","city":"New York","price":2.17},{"date":"2022-01-18","city":"New York","price":2.221},{"date":"2022-01-20","city":"New York","price":2.263},{"date":"2022-01-23","city":"New York","price":2.297},{"date":"2022-01-25","city":"New York","price":2.238},{"date":"2022-01-27","city":"New York","price":2.255},{"date":"2022-01-29","city":"New York","price":2.297},{"date":"2022-01-31","city":"New York","price":2.339},
{"date":"2022-02-03","city":"New York","price":2.373},{"date":"2022-02-05","city":"New York","price":2.398},{"date":"2022-02-08","city":"New York","price":2.458},{"date":"2022-02-09","city":"New York","price":2.584},{"date":"2022-02-11","city":"New York","price":2.652},{"date":"2022-02-13","city":"New York","price":2.626},{"date":"2022-02-16","city":"New York","price":2.584},{"date":"2022-02-19","city":"New York","price":2.567},{"date":"2022-02-21","city":"New York","price":2.542},{"date":"2022-02-23","city":"New York","price":2.441},{"date":"2022-02-25","city":"New York","price":2.5},{"date":"2022-02-27","city":"New York","price":2.525},
{"date":"2022-03-03","city":"New York","price":2.534},{"date":"2022-03-04","city":"New York","price":2.517},{"date":"2022-03-07","city":"New York","price":2.441},{"date":"2022-03-10","city":"New York","price":2.424},{"date":"2022-03-14","city":"New York","price":2.415},{"date":"2022-03-16","city":"New York","price":2.525},{"date":"2022-03-18","city":"New York","price":2.534},{"date":"2022-03-20","city":"New York","price":2.576},{"date":"2022-03-22","city":"New York","price":2.711},{"date":"2022-03-25","city":"New York","price":2.77},{"date":"2022-03-27","city":"New York","price":2.812},{"date":"2022-03-29","city":"New York","price":2.93},{"date":"2022-03-31","city":"New York","price":2.913},{"date":"2022-04-01","city":"New York","price":2.897},

{"date":"2019-10-01","city":"LA","price":1.793},{"date":"2019-10-05","city":"LA","price":1.819},{"date":"2019-10-08","city":"LA","price":1.807},{"date":"2019-10-11","city":"LA","price":1.767},{"date":"2019-10-15","city":"LA","price":1.723},{"date":"2019-10-19","city":"LA","price":1.659},{"date":"2019-10-21","city":"LA","price":1.651},{"date":"2019-10-24","city":"LA","price":1.671},
{"date":"2019-11-01","city":"LA","price":1.679},{"date":"2019-11-03","city":"LA","price":1.759},{"date":"2019-11-08","city":"LA","price":1.739},{"date":"2019-11-12","city":"LA","price":1.739},{"date":"2019-11-14","city":"LA","price":1.699},{"date":"2019-11-18","city":"LA","price":1.687},{"date":"2019-11-21","city":"LA","price":1.659},{"date":"2019-11-22","city":"LA","price":1.631},{"date":"2019-11-24","city":"LA","price":1.663},{"date":"2019-11-27","city":"LA","price":1.647},{"date":"2019-11-30","city":"LA","price":1.587},
{"date":"2019-12-05","city":"LA","price":1.583},{"date":"2019-12-08","city":"LA","price":1.603},{"date":"2019-12-12","city":"LA","price":1.595},{"date":"2019-12-15","city":"LA","price":1.571},{"date":"2019-12-19","city":"LA","price":1.559},{"date":"2019-12-21","city":"LA","price":1.503},{"date":"2019-12-24","city":"LA","price":1.531},{"date":"2019-12-27","city":"LA","price":1.503},{"date":"2019-12-29","city":"LA","price":1.539},
{"date":"2020-01-03","city":"LA","price":1.531},{"date":"2020-01-07","city":"LA","price":1.519},{"date":"2020-01-11","city":"LA","price":1.547},{"date":"2020-01-16","city":"LA","price":1.555},{"date":"2020-01-19","city":"LA","price":1.563},{"date":"2020-01-26","city":"LA","price":1.555},{"date":"2020-01-29","city":"LA","price":1.571},
{"date":"2020-02-01","city":"LA","price":1.515},{"date":"2020-02-05","city":"LA","price":1.499},{"date":"2020-02-08","city":"LA","price":1.463},{"date":"2020-02-12","city":"LA","price":1.483},{"date":"2020-02-16","city":"LA","price":1.467},{"date":"2020-02-20","city":"LA","price":1.455},{"date":"2020-02-22","city":"LA","price":1.427},{"date":"2020-02-25","city":"LA","price":1.363},{"date":"2020-02-26","city":"LA","price":1.267},{"date":"2020-02-27","city":"LA","price":1.179},{"date":"2020-02-29","city":"LA","price":1.171},
{"date":"2020-03-02","city":"LA","price":1.083},{"date":"2020-03-05","city":"LA","price":1.043},{"date":"2020-03-07","city":"LA","price":0.963},{"date":"2020-03-09","city":"LA","price":0.995},{"date":"2020-03-11","city":"LA","price":0.995},{"date":"2020-03-13","city":"LA","price":0.931},{"date":"2020-03-15","city":"LA","price":1.003},{"date":"2020-03-18","city":"LA","price":0.999},{"date":"2020-03-19","city":"LA","price":0.955},{"date":"2020-03-21","city":"LA","price":1.059},{"date":"2020-03-25","city":"LA","price":1.003},{"date":"2020-03-28","city":"LA","price":1.075},
{"date":"2020-04-01","city":"LA","price":1.003},{"date":"2020-04-03","city":"LA","price":1.067},{"date":"2020-04-06","city":"LA","price":1.059},{"date":"2020-04-08","city":"LA","price":1.043},{"date":"2020-04-09","city":"LA","price":1.139},{"date":"2020-04-13","city":"LA","price":1.16},{"date":"2020-04-16","city":"LA","price":1.303},{"date":"2020-04-22","city":"LA","price":1.307},{"date":"2020-04-25","city":"LA","price":1.331},{"date":"2020-04-29","city":"LA","price":1.359},
{"date":"2020-05-01","city":"LA","price":1.331},{"date":"2020-05-03","city":"LA","price":1.351},{"date":"2020-05-08","city":"LA","price":1.371},{"date":"2020-05-10","city":"LA","price":1.407},{"date":"2020-05-13","city":"LA","price":1.407},{"date":"2020-05-16","city":"LA","price":1.475},{"date":"2020-05-19","city":"LA","price":1.483},{"date":"2020-05-21","city":"LA","price":1.507},{"date":"2020-05-25","city":"LA","price":1.467},{"date":"2020-05-28","city":"LA","price":1.515},{"date":"2020-05-30","city":"LA","price":1.603},
{"date":"2020-06-03","city":"LA","price":1.603},{"date":"2020-06-05","city":"LA","price":1.559},{"date":"2020-06-09","city":"LA","price":1.575},{"date":"2020-06-11","city":"LA","price":1.627},{"date":"2020-06-15","city":"LA","price":1.707},{"date":"2020-06-17","city":"LA","price":1.739},{"date":"2020-06-18","city":"LA","price":1.839},{"date":"2020-06-20","city":"LA","price":1.691},{"date":"2020-06-24","city":"LA","price":1.619},{"date":"2020-06-26","city":"LA","price":1.563},{"date":"2020-06-29","city":"LA","price":1.443},
{"date":"2020-07-01","city":"LA","price":1.379},{"date":"2020-07-03","city":"LA","price":1.419},{"date":"2020-07-08","city":"LA","price":1.423},{"date":"2020-07-11","city":"LA","price":1.415},{"date":"2020-07-15","city":"LA","price":1.387},{"date":"2020-07-19","city":"LA","price":1.407},{"date":"2020-07-23","city":"LA","price":1.419},{"date":"2020-07-25","city":"LA","price":1.491},{"date":"2020-07-28","city":"LA","price":1.495},{"date":"2020-07-30","city":"LA","price":1.475},
{"date":"2020-08-03","city":"LA","price":1.507},{"date":"2020-08-06","city":"LA","price":1.547},{"date":"2020-08-08","city":"LA","price":1.567},{"date":"2020-08-11","city":"LA","price":1.551},{"date":"2020-08-15","city":"LA","price":1.579},{"date":"2020-08-19","city":"LA","price":1.559},{"date":"2020-08-23","city":"LA","price":1.543},{"date":"2020-08-27","city":"LA","price":1.531},{"date":"2020-08-31","city":"LA","price":1.519},
{"date":"2020-09-04","city":"LA","price":1.495},{"date":"2020-09-09","city":"LA","price":1.515},{"date":"2020-09-11","city":"LA","price":1.583},{"date":"2020-09-15","city":"LA","price":1.591},{"date":"2020-09-19","city":"LA","price":1.603},{"date":"2020-09-23","city":"LA","price":1.611},{"date":"2020-09-26","city":"LA","price":1.663},{"date":"2020-09-28","city":"LA","price":1.663},
{"date":"2020-10-01","city":"LA","price":1.639},{"date":"2020-10-03","city":"LA","price":1.723},{"date":"2020-10-07","city":"LA","price":1.743},{"date":"2020-10-09","city":"LA","price":1.687},{"date":"2020-10-11","city":"LA","price":1.651},{"date":"2020-10-13","city":"LA","price":1.647},{"date":"2020-10-16","city":"LA","price":1.599},{"date":"2020-10-18","city":"LA","price":1.587},{"date":"2020-10-21","city":"LA","price":1.607},{"date":"2020-10-24","city":"LA","price":1.559},{"date":"2020-10-27","city":"LA","price":1.531},{"date":"2020-10-30","city":"LA","price":1.495},
{"date":"2020-11-02","city":"LA","price":1.487},{"date":"2020-11-04","city":"LA","price":1.503},{"date":"2020-11-09","city":"LA","price":1.5},{"date":"2020-11-13","city":"LA","price":1.431},{"date":"2020-11-15","city":"LA","price":1.442},{"date":"2020-11-17","city":"LA","price":1.431},{"date":"2020-11-20","city":"LA","price":1.415},{"date":"2020-11-22","city":"LA","price":1.426},{"date":"2020-11-25","city":"LA","price":1.42},{"date":"2020-11-27","city":"LA","price":1.495},{"date":"2020-11-30","city":"LA","price":1.506},
{"date":"2020-12-02","city":"LA","price":1.543},{"date":"2020-12-06","city":"LA","price":1.559},{"date":"2020-12-10","city":"LA","price":1.591},{"date":"2020-12-14","city":"LA","price":1.575},{"date":"2020-12-17","city":"LA","price":1.597},{"date":"2020-12-21","city":"LA","price":1.602},{"date":"2020-12-24","city":"LA","price":1.677},{"date":"2020-12-27","city":"LA","price":1.655},{"date":"2020-12-30","city":"LA","price":1.639},
{"date":"2021-01-01","city":"LA","price":1.612},{"date":"2021-01-04","city":"LA","price":1.644},{"date":"2021-01-07","city":"LA","price":1.709},{"date":"2021-01-10","city":"LA","price":1.709},{"date":"2021-01-14","city":"LA","price":1.693},{"date":"2021-01-16","city":"LA","price":1.746},{"date":"2021-01-19","city":"LA","price":1.756},{"date":"2021-01-21","city":"LA","price":1.698},{"date":"2021-01-22","city":"LA","price":1.815},{"date":"2021-01-25","city":"LA","price":1.831},{"date":"2021-01-27","city":"LA","price":1.895},{"date":"2021-01-29","city":"LA","price":1.9},
{"date":"2021-02-01","city":"LA","price":1.874},{"date":"2021-02-03","city":"LA","price":1.927},{"date":"2021-02-09","city":"LA","price":1.932},{"date":"2021-02-11","city":"LA","price":1.927},{"date":"2021-02-13","city":"LA","price":1.943},{"date":"2021-02-17","city":"LA","price":1.948},{"date":"2021-02-18","city":"LA","price":2.071},{"date":"2021-02-20","city":"LA","price":2.124},{"date":"2021-02-23","city":"LA","price":2.146},{"date":"2021-02-24","city":"LA","price":2.21},{"date":"2021-02-28","city":"LA","price":2.215},
{"date":"2021-03-04","city":"LA","price":2.183},{"date":"2021-03-07","city":"LA","price":2.215},{"date":"2021-03-09","city":"LA","price":2.199},{"date":"2021-03-11","city":"LA","price":2.29},{"date":"2021-03-14","city":"LA","price":2.29},{"date":"2021-03-16","city":"LA","price":2.231},{"date":"2021-03-18","city":"LA","price":2.322},{"date":"2021-03-22","city":"LA","price":2.338},{"date":"2021-03-25","city":"LA","price":2.412},{"date":"2021-03-30","city":"LA","price":2.455},
{"date":"2021-04-01","city":"LA","price":2.578},{"date":"2021-04-03","city":"LA","price":2.599},{"date":"2021-04-06","city":"LA","price":2.631},{"date":"2021-04-08","city":"LA","price":2.599},{"date":"2021-04-10","city":"LA","price":2.652},{"date":"2021-04-12","city":"LA","price":2.668},{"date":"2021-04-14","city":"LA","price":2.818},{"date":"2021-04-16","city":"LA","price":2.9},{"date":"2021-04-18","city":"LA","price":2.91},{"date":"2021-04-20","city":"LA","price":2.87},{"date":"2021-04-23","city":"LA","price":2.765},{"date":"2021-04-26","city":"LA","price":2.797},{"date":"2021-04-28","city":"LA","price":2.818},
{"date":"2021-05-03","city":"LA","price":2.802},{"date":"2021-05-05","city":"LA","price":2.722},{"date":"2021-05-07","city":"LA","price":2.72},{"date":"2021-05-09","city":"LA","price":2.743},{"date":"2021-05-11","city":"LA","price":2.795},{"date":"2021-05-13","city":"LA","price":2.735},{"date":"2021-05-15","city":"LA","price":2.705},{"date":"2021-05-18","city":"LA","price":2.728},{"date":"2021-05-20","city":"LA","price":2.705},{"date":"2021-05-24","city":"LA","price":2.667},{"date":"2021-05-26","city":"LA","price":2.697},{"date":"2021-05-27","city":"LA","price":2.637},{"date":"2021-05-30","city":"LA","price":2.652},
{"date":"2021-06-01","city":"LA","price":2.667},{"date":"2021-06-03","city":"LA","price":2.645},{"date":"2021-06-04","city":"LA","price":2.607},{"date":"2021-06-08","city":"LA","price":2.66},{"date":"2021-06-10","city":"LA","price":2.735},{"date":"2021-06-12","city":"LA","price":2.675},{"date":"2021-06-15","city":"LA","price":2.614},{"date":"2021-06-17","city":"LA","price":2.592},{"date":"2021-06-19","city":"LA","price":2.562},{"date":"2021-06-22","city":"LA","price":2.554},{"date":"2021-06-24","city":"LA","price":2.592},{"date":"2021-06-27","city":"LA","price":2.569},{"date":"2021-06-29","city":"LA","price":2.584},
{"date":"2021-07-01","city":"LA","price":2.577},{"date":"2021-07-06","city":"LA","price":2.577},{"date":"2021-07-08","city":"LA","price":2.652},{"date":"2021-07-11","city":"LA","price":2.66},{"date":"2021-07-14","city":"LA","price":2.652},{"date":"2021-07-16","city":"LA","price":2.629},{"date":"2021-07-20","city":"LA","price":2.622},{"date":"2021-07-22","city":"LA","price":2.705},{"date":"2021-07-25","city":"LA","price":2.713},{"date":"2021-07-27","city":"LA","price":2.705},{"date":"2021-07-29","city":"LA","price":2.682},
{"date":"2021-08-02","city":"LA","price":2.675},{"date":"2021-08-04","city":"LA","price":2.705},{"date":"2021-08-07","city":"LA","price":2.697},{"date":"2021-08-09","city":"LA","price":2.622},{"date":"2021-08-11","city":"LA","price":2.66},{"date":"2021-08-13","city":"LA","price":2.765},{"date":"2021-08-16","city":"LA","price":2.833},{"date":"2021-08-19","city":"LA","price":2.901},{"date":"2021-08-21","city":"LA","price":2.848},{"date":"2021-08-23","city":"LA","price":2.826},{"date":"2021-08-25","city":"LA","price":2.848},{"date":"2021-08-30","city":"LA","price":2.788},
{"date":"2021-09-03","city":"LA","price":2.781},{"date":"2021-09-07","city":"LA","price":2.743},{"date":"2021-09-10","city":"LA","price":2.682},{"date":"2021-09-12","city":"LA","price":2.697},{"date":"2021-09-15","city":"LA","price":2.864},{"date":"2021-09-18","city":"LA","price":2.848},{"date":"2021-09-21","city":"LA","price":2.735},{"date":"2021-09-25","city":"LA","price":2.864},{"date":"2021-09-27","city":"LA","price":2.954},{"date":"2021-09-29","city":"LA","price":3.022},
{"date":"2021-10-01","city":"LA","price":2.909},{"date":"2021-10-03","city":"LA","price":2.871},{"date":"2021-10-05","city":"LA","price":2.97},{"date":"2021-10-06","city":"LA","price":3.181},{"date":"2021-10-08","city":"LA","price":3.196},{"date":"2021-10-10","city":"LA","price":3.166},{"date":"2021-10-12","city":"LA","price":3.204},{"date":"2021-10-14","city":"LA","price":3.48},{"date":"2021-10-18","city":"LA","price":3.505},{"date":"2021-10-20","city":"LA","price":3.566},{"date":"2021-10-21","city":"LA","price":3.7},{"date":"2021-10-24","city":"LA","price":3.708},{"date":"2021-10-27","city":"LA","price":4.03},{"date":"2021-10-29","city":"LA","price":3.97},{"date":"2021-10-31","city":"LA","price":4.082},
{"date":"2021-11-01","city":"LA","price":4.092},{"date":"2021-11-03","city":"LA","price":4.11},{"date":"2021-11-06","city":"LA","price":4.0},{"date":"2021-11-08","city":"LA","price":3.9},{"date":"2021-11-09","city":"LA","price":3.502},{"date":"2021-11-11","city":"LA","price":3.475},{"date":"2021-11-13","city":"LA","price":3.424},{"date":"2021-11-15","city":"LA","price":3.374},{"date":"2021-11-17","city":"LA","price":3.2},{"date":"2021-11-19","city":"LA","price":3.154},{"date":"2021-11-22","city":"LA","price":3.14},{"date":"2021-11-23","city":"LA","price":3.1},{"date":"2021-11-24","city":"LA","price":3.04},{"date":"2021-11-25","city":"LA","price":3.245},{"date":"2021-11-28","city":"LA","price":3.224},{"date":"2021-11-30","city":"LA","price":3.154},
{"date":"2021-12-02","city":"LA","price":3.195},{"date":"2021-12-04","city":"LA","price":3.184},{"date":"2021-12-06","city":"LA","price":3.15},{"date":"2021-12-08","city":"LA","price":2.98},{"date":"2021-12-09","city":"LA","price":2.854},{"date":"2021-12-13","city":"LA","price":2.804},{"date":"2021-12-15","city":"LA","price":2.694},{"date":"2021-12-17","city":"LA","price":2.669},{"date":"2021-12-20","city":"LA","price":2.652},{"date":"2021-12-21","city":"LA","price":2.534},{"date":"2021-12-23","city":"LA","price":2.517},{"date":"2021-12-26","city":"LA","price":2.542},{"date":"2021-12-29","city":"LA","price":2.584},{"date":"2021-12-31","city":"LA","price":2.508},
{"date":"2022-01-03","city":"LA","price":2.483},{"date":"2022-01-05","city":"LA","price":2.356},{"date":"2022-01-07","city":"LA","price":2.432},{"date":"2022-01-10","city":"LA","price":2.424},{"date":"2022-01-12","city":"LA","price":2.306},{"date":"2022-01-15","city":"LA","price":2.306},{"date":"2022-01-17","city":"LA","price":2.314},{"date":"2022-01-19","city":"LA","price":2.373},{"date":"2022-01-22","city":"LA","price":2.365},{"date":"2022-01-24","city":"LA","price":2.339},{"date":"2022-01-26","city":"LA","price":2.314},{"date":"2022-01-28","city":"LA","price":2.348},{"date":"2022-01-31","city":"LA","price":2.365},
{"date":"2022-02-02","city":"LA","price":2.424},{"date":"2022-02-03","city":"LA","price":2.466},{"date":"2022-02-05","city":"LA","price":2.466},{"date":"2022-02-07","city":"LA","price":2.483},{"date":"2022-02-09","city":"LA","price":2.745},{"date":"2022-02-11","city":"LA","price":2.745},{"date":"2022-02-13","city":"LA","price":2.719},{"date":"2022-02-15","city":"LA","price":2.702},{"date":"2022-02-16","city":"LA","price":2.635},{"date":"2022-02-17","city":"LA","price":2.66},{"date":"2022-02-20","city":"LA","price":2.66},{"date":"2022-02-23","city":"LA","price":2.618},{"date":"2022-02-24","city":"LA","price":2.652},{"date":"2022-02-27","city":"LA","price":2.694},
{"date":"2022-03-01","city":"LA","price":2.677},{"date":"2022-03-04","city":"LA","price":2.669},{"date":"2022-03-07","city":"LA","price":2.618},{"date":"2022-03-08","city":"LA","price":2.61},{"date":"2022-03-10","city":"LA","price":2.686},{"date":"2022-03-12","city":"LA","price":2.711},{"date":"2022-03-15","city":"LA","price":2.728},{"date":"2022-03-16","city":"LA","price":2.736},{"date":"2022-03-18","city":"LA","price":2.804},{"date":"2022-03-21","city":"LA","price":2.821},{"date":"2022-03-23","city":"LA","price":2.981},{"date":"2022-03-25","city":"LA","price":3.015},{"date":"2022-03-27","city":"LA","price":3.049},{"date":"2022-03-29","city":"LA","price":3.243},{"date":"2022-04-01","city":"LA","price":3.446}
]},
"mark":{"type":"line","strokeWidth":9,"strokeJoin":"round","strokeCap":"round"},
"encoding":{
"x":{"field":"date","type":"temporal",
"scale":{"type":"utc","domain":[{"year":2019,"month":10,"date":1,"utc":true},{"year":2022,"month":4,"date":1,"utc":true}]},
"axis":{"title":null,"tickCount":{"interval":"month","step":1},"format":"%b-%y","labelAngle":-45,"labelAlign":"right","labelBaseline":"middle","labelFont":"Open Sans","labelFontSize":49,"labelColor":"#595959","labelPadding":45,"ticks":false,"domain":false,"grid":false,"labelOverlap":false,"labelBound":false,"labelFlush":false}},
"y":{"field":"price","type":"quantitative",
"scale":{"domain":[0.8,4.3],"nice":false,"zero":false},
"axis":{"title":null,"values":[0.8,1.3,1.8,2.3,2.8,3.3,3.8,4.3],"format":"$.2f","labelFont":"Open Sans","labelFontSize":68,"labelColor":"#595959","labelPadding":72,"ticks":false,"domain":false,"grid":true,"gridColor":"#D9D9D9","gridWidth":3}},
"color":{"field":"city","type":"nominal",
"scale":{"domain":["Chicago","New York","LA"],"range":["#5B9BD5","#ED7D31","#A5A5A5"]},
"legend":{"title":null,"orient":"none","legendX":1294,"legendY":470,"direction":"horizontal","symbolType":"stroke","symbolSize":13456,"symbolStrokeWidth":10,"labelFont":"Open Sans","labelFontSize":66,"labelColor":"#595959","labelOffset":4,"labelLimit":600,"columnPadding":44}}
}
}
